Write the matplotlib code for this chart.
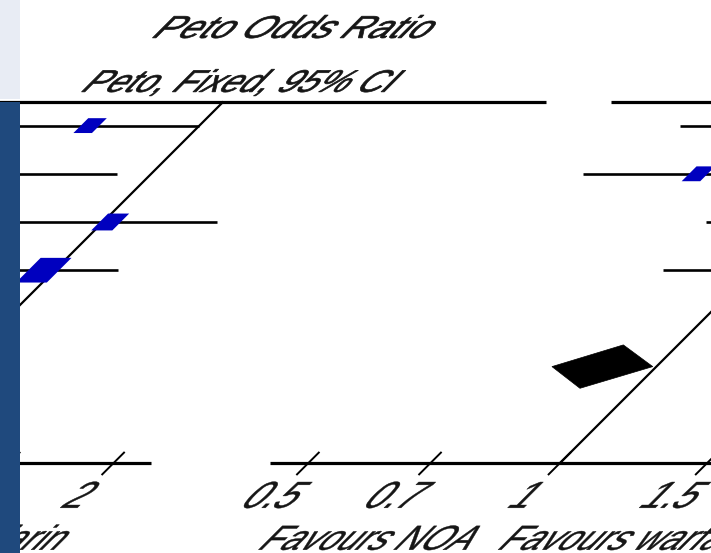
import numpy as np
import matplotlib
matplotlib.use("Agg")
import matplotlib.pyplot as plt
from matplotlib.patches import Rectangle, Polygon
from matplotlib.patheffects import AbstractPathEffect
from matplotlib.transforms import Affine2D, offset_copy

# ---------------- data ----------------
tick_values = [0.5, 0.7, 1, 1.5, 2]
tick_labels = ["0.5", "0.7", "1", "1.5", "2"]
header_title = "Peto Odds Ratio"
header_method = "Peto, Fixed, 95% CI"
favours_left = "Favours NOA"
favours_right = "Favours warfarin"

# first comparison (left forest plot)
left_or = [0.74, 0.60, 1.02, 0.97]
left_lo = [0.55, 0.40, 0.76, 0.79]
left_hi = [1.00, 0.91, 1.37, 1.19]
left_weight = [17, 14, 22, 47]
left_pooled = [0.88, 0.78, 0.99]   # estimate, lower, upper

# second comparison (right forest plot)
right_or = [0.80, 0.66, 1.05, 0.99]
right_lo = [0.55, 0.48, 0.77, 0.78]
right_hi = [1.15, 0.90, 1.45, 1.25]
right_weight = [20, 17, 22, 41]
right_pooled = [0.86, 0.75, 0.99]

# ---------------- layout ----------------
W, H, DPI = 711, 553, 100
PX_PER_LN = 363.0          # pixels per unit of ln(OR)
PX_PER_ROW = 48.2          # pixels per table row
XMIN, XMAX = 0.45, 2.22    # forest-axis limits
TABLE_LO, TABLE_HI = 0.425, 2.43
ROW_TOP, ROW_AXIS = -0.5, 7.0
POOLED_ROW = 5
AXIS_Y = 90.0              # display y of the scale line
NULL_X = {"left": -138.0, "right": 560.0}

SQ_PX = 3.6                # square height per sqrt(weight), pixels
SQ_ASPECT = 1.25
BLUE = "#0000BF"
INK = "#161616"
FONT = "Liberation Sans"

# whole drawing is slanted: x' = x + (y - AXIS_Y) in display pixels
SHEAR = Affine2D(np.array([[1.0, 1.0, -AXIS_Y],
                           [0.0, 1.0, 0.0],
                           [0.0, 0.0, 1.0]]))


class Slant(AbstractPathEffect):
    """Draw text glyphs through the same slant as the rest of the drawing."""

    def __init__(self, shear, sx=1.0, sy=1.0, stroke=0.3):
        super().__init__()
        self._shear = shear
        self._sx = sx
        self._sy = sy
        self._stroke = stroke

    def draw_path(self, renderer, gc, tpath, affine, rgbFace=None):
        ext = tpath.get_extents()
        cx = 0.5 * (ext.x0 + ext.x1)
        local = (Affine2D().translate(-cx, 0)
                 .scale(self._sx, self._sy).translate(cx, 0))
        gc0 = renderer.new_gc()
        gc0.copy_properties(gc)
        gc0.set_linewidth(self._stroke)
        if rgbFace is not None:
            gc0.set_foreground(rgbFace)
        renderer.draw_path(gc0, tpath, local + affine + self._shear, rgbFace)
        gc0.restore()


fig = plt.figure(figsize=(W / DPI, H / DPI), dpi=DPI, facecolor="white")


def panel_axes(null_x):
    left_px = null_x + PX_PER_LN * np.log(XMIN)
    width_px = PX_PER_LN * np.log(XMAX / XMIN)
    height_px = PX_PER_ROW * (ROW_AXIS - ROW_TOP)
    ax = fig.add_axes([left_px / W, AXIS_Y / H, width_px / W, height_px / H])
    ax.set_xscale("log")
    ax.set_xlim(XMIN, XMAX)
    ax.set_ylim(ROW_AXIS, ROW_TOP)
    ax.axis("off")
    return ax


def draw_panel(ax, est, lo, hi, weight, pooled):
    tr = ax.transData + SHEAR
    line_kw = dict(color="black", transform=tr, clip_on=False,
                   solid_capstyle="butt")

    # table rule, null line, scale line
    ax.plot([TABLE_LO, TABLE_HI], [ROW_TOP, ROW_TOP], lw=2.3, **line_kw)
    ax.plot([1, 1], [ROW_TOP, ROW_AXIS], lw=1.6, **line_kw)
    ax.plot([XMIN, XMAX], [ROW_AXIS, ROW_AXIS], lw=2.3, **line_kw)

    # study rows: CI line + weighted square
    for r, (e, l, h, w) in enumerate(zip(est, lo, hi, weight)):
        ax.plot([l, h], [r, r], lw=1.9, **line_kw)
        side = SQ_PX * np.sqrt(w)
        hw = 0.5 * SQ_ASPECT * side / PX_PER_LN
        hh = 0.5 * side / PX_PER_ROW
        ax.add_patch(Rectangle((e * np.exp(-hw), r - hh),
                               e * np.exp(hw) - e * np.exp(-hw), 2 * hh,
                               facecolor=BLUE, edgecolor="none",
                               transform=tr, clip_on=False, zorder=3))

    # pooled diamond
    pe, pl, ph = pooled
    dh = 0.45
    ax.add_patch(Polygon([[pl, POOLED_ROW], [pe, POOLED_ROW - dh],
                          [ph, POOLED_ROW], [pe, POOLED_ROW + dh]],
                         closed=True, facecolor="black", edgecolor="black",
                         lw=0.5, transform=tr, clip_on=False, zorder=3))

    # ticks and tick labels
    for t, lab in zip(tick_values, tick_labels):
        ax.plot([t, t], [ROW_AXIS - 0.23, ROW_AXIS + 0.25], lw=1.4, **line_kw)
        ax.text(t, 7.93, lab, ha="center", va="baseline", fontsize=27,
                family=FONT, color=INK, path_effects=[Slant(SHEAR)])

    # header
    ax.text(1, -1.82, header_title, ha="center", va="baseline", fontsize=27,
            family=FONT, color=INK,
            path_effects=[Slant(SHEAR, sy=0.84, stroke=0.5)])
    ax.text(1, -0.70, header_method, ha="center", va="baseline", fontsize=25,
            family=FONT, color=INK,
            path_effects=[Slant(SHEAR, sy=0.9, stroke=0.5)])

    # favours labels either side of the null line
    ax.text(1, 8.8, favours_left, ha="right", va="baseline", fontsize=25,
            family=FONT, color=INK, path_effects=[Slant(SHEAR)],
            transform=offset_copy(ax.transData, x=-7, units="dots"))
    ax.text(1, 8.8, favours_right, ha="left", va="baseline", fontsize=25,
            family=FONT, color=INK, path_effects=[Slant(SHEAR)],
            transform=offset_copy(ax.transData, x=22, units="dots"))


ax_left = panel_axes(NULL_X["left"])
draw_panel(ax_left, left_or, left_lo, left_hi, left_weight, left_pooled)

ax_right = panel_axes(NULL_X["right"])
draw_panel(ax_right, right_or, right_lo, right_hi, right_weight, right_pooled)

# slide side band
fig.add_artist(Rectangle((0, (H - 99) / H), 20 / W, 99 / H,
                         transform=fig.transFigure, facecolor="#E8ECF4",
                         edgecolor="none", zorder=10))
fig.add_artist(Rectangle((0, 0), 20 / W, (H - 102) / H,
                         transform=fig.transFigure, facecolor="#1F497D",
                         edgecolor="none", zorder=10))

fig.savefig("out.png", dpi=DPI, facecolor="white")
